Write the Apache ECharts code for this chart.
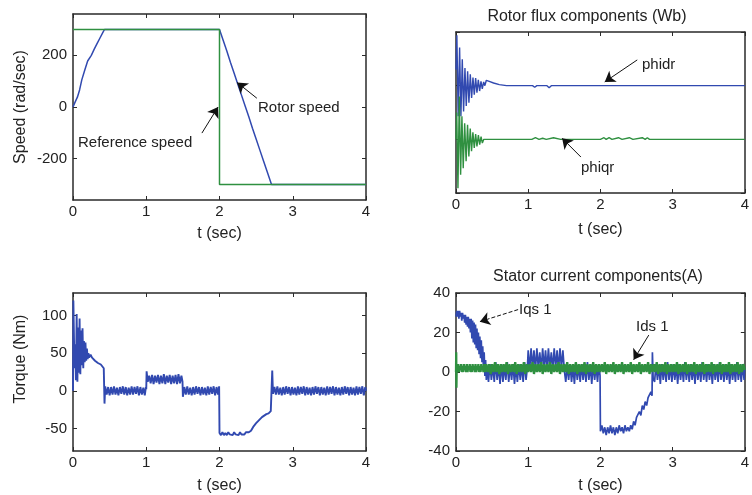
<!DOCTYPE html>
<html><head><meta charset="utf-8">
<script src="https://cdn.jsdelivr.net/npm/echarts@6/dist/echarts.min.js"></script>
<style>html,body{margin:0;padding:0;background:#fff}#c{width:752px;height:495px}</style>
</head><body><div id="c"></div>
<script>
// ---- tick labels ----
const timeTicks = [0, 1, 2, 3, 4];
const speedTicks = [-200, 0, 200];
const torqueTicks = [-50, 0, 50, 100];
const currentTicks = [-40, -20, 0, 20, 40];

// ---- speed (rad/sec) ----
const refSpeed = [[0,300],[2,300],[2,-300],[4,-300]];
const rotorSpeed = [[0,0],[0.03,20],[0.06,38],[0.09,66],[0.12,105],[0.16,142],[0.2,178],[0.25,200],[0.29,224],[0.33,246],[0.37,268],[0.41,290],[0.43,300],[2.0,300],[2.05,258],[2.1,217],[2.15,172],[2.2,131],[2.25,88],[2.3,46],[2.35,4],[2.4,-38],[2.45,-82],[2.5,-124],[2.55,-166],[2.6,-208],[2.65,-250],[2.71,-300],[4,-300]];

// ---- rotor flux (Wb) ----
const phidr = [[0,1.3],[0.012,1.94],[0.03,0.43],[0.05,1.71],[0.068,0.43],[0.087,1.49],[0.105,0.52],[0.124,1.33],[0.142,0.62],[0.161,1.27],[0.179,0.68],[0.198,1.21],[0.216,0.77],[0.235,1.15],[0.253,0.83],[0.272,1.14],[0.29,0.87],[0.309,1.11],[0.327,0.9],[0.346,1.08],[0.364,0.94],[0.383,1.07],[0.40,1.0],[0.42,1.1],[0.46,1.08],[0.52,1.05],[0.6,1.02],[0.7,1.0],[1.06,1.0],[1.09,0.97],[1.12,1.0],[1.26,1.0],[1.29,0.96],[1.32,1.0],[1.6,1.0],[1.61,0.98],[1.62,1.0],[1.8,1.0],[1.81,0.98],[1.82,1.0],[2.0,1.0],[2.01,0.98],[2.02,1.0],[2.2,1.0],[2.21,0.98],[2.22,1.0],[2.4,1.0],[2.41,0.98],[2.42,1.0],[2.6,1.0],[2.61,0.98],[2.62,1.0],[2.8,1.0],[2.81,0.98],[2.82,1.0],[3.02,1.0],[3.03,0.98],[3.04,1.0],[4,1.0]];
const phiqr = [[0,0],[0.01,0.5],[0.027,-0.91],[0.046,0.80],[0.064,-0.66],[0.082,0.43],[0.1,-0.54],[0.12,0.30],[0.14,-0.41],[0.16,0.27],[0.178,-0.32],[0.197,0.2],[0.215,-0.22],[0.234,0.13],[0.253,-0.16],[0.272,0.10],[0.29,-0.13],[0.31,0.08],[0.328,-0.1],[0.347,0.05],[0.365,-0.07],[0.385,0.0],[1.05,0.0],[1.1,0.03],[1.15,0.0],[1.2,0.02],[1.25,0.0],[1.35,0.03],[1.45,0.0],[2.0,0.0],[2.05,0.03],[2.08,0.0],[2.12,0.03],[2.16,0.0],[2.25,0.03],[2.3,0.0],[2.4,0.03],[2.45,0.0],[2.58,0.03],[2.62,0.0],[2.65,0.03],[2.68,0.0],[4,0.0]];

// ---- torque (Nm) ----
const torque = [[0,0],[0.005,120],[0.015,118],[0.02,30],[0.03,62],[0.04,14],[0.05,102],[0.06,12],[0.07,84],[0.08,24],[0.09,96],[0.1,22],[0.11,80],[0.12,34],[0.13,83],[0.14,30],[0.15,66],[0.16,38],[0.17,64],[0.18,40],[0.19,56],[0.2,42],[0.21,50],[0.22,44],[0.24,48],[0.26,44],[0.28,45],[0.3,40],[0.32,39],[0.34,37],[0.36,36],[0.38,35],[0.4,34],[0.42,30],[0.43,-17],[0.44,6],
[0.46,-5],[0.48,5],[0.5,-6],[0.52,5],[0.54,-5],[0.56,6],[0.58,-5],[0.6,4],[0.62,-6],[0.64,5],[0.66,-4],[0.68,6],[0.7,-5],[0.72,5],[0.74,-6],[0.76,4],[0.78,-5],[0.8,6],[0.82,-5],[0.84,5],[0.86,-4],[0.88,6],[0.9,-6],[0.92,5],[0.94,-5],[0.96,4],[0.98,-6],[0.995,5],
[1.0,2],[1.005,26],[1.02,12],[1.04,20],[1.06,10],[1.08,21],[1.1,9],[1.12,20],[1.14,11],[1.16,21],[1.18,9],[1.2,20],[1.22,10],[1.24,22],[1.26,9],[1.28,20],[1.3,11],[1.32,21],[1.34,9],[1.36,20],[1.38,10],[1.4,21],[1.42,9],[1.44,22],[1.46,10],[1.48,20],[1.495,12],
[1.5,-8],[1.52,5],[1.54,-5],[1.56,6],[1.58,-5],[1.6,4],[1.62,-6],[1.64,5],[1.66,-5],[1.68,6],[1.7,-4],[1.72,5],[1.74,-6],[1.76,5],[1.78,-5],[1.8,4],[1.82,-6],[1.84,6],[1.86,-5],[1.88,5],[1.9,-4],[1.92,6],[1.94,-6],[1.96,5],[1.98,-5],[1.995,6],
[2.0,-56],[2.02,-59],[2.04,-55],[2.06,-59],[2.08,-56],[2.1,-59],[2.12,-55],[2.14,-58],[2.16,-56],[2.18,-59],[2.2,-55],[2.22,-58],[2.24,-56],[2.26,-59],[2.28,-55],[2.3,-58],[2.32,-56],[2.34,-58],[2.36,-55],[2.38,-57],[2.4,-55],[2.43,-53],[2.46,-48],[2.48,-46],[2.5,-43],[2.52,-41],[2.54,-39],[2.56,-37],[2.58,-35],[2.61,-33],[2.64,-31],[2.67,-30],[2.7,-27],[2.715,-27],[2.72,27],[2.73,-4],
[2.75,5],[2.77,-5],[2.79,6],[2.81,-5],[2.83,4],[2.85,-6],[2.87,5],[2.89,-5],[2.91,6],[2.93,-4],[2.95,5],[2.97,-6],[2.99,5],[3.01,-5],[3.03,4],[3.05,-6],[3.07,6],[3.09,-5],[3.11,5],[3.13,-4],[3.15,6],[3.17,-6],[3.19,5],[3.21,-5],[3.23,4],[3.25,-6],[3.27,5],[3.29,-5],[3.31,6],[3.33,-4],[3.35,5],[3.37,-6],[3.39,5],[3.41,-5],[3.43,4],[3.45,-6],[3.47,6],[3.49,-5],[3.51,5],[3.53,-4],[3.55,6],[3.57,-6],[3.59,5],[3.61,-5],[3.63,4],[3.65,-6],[3.67,5],[3.69,-5],[3.71,6],[3.73,-4],[3.75,5],[3.77,-6],[3.79,5],[3.81,-5],[3.83,4],[3.85,-6],[3.87,6],[3.89,-5],[3.91,5],[3.93,-4],[3.95,6],[3.97,-6],[3.99,5],[4,0]];

// ---- stator currents (A) ----
const iqs1 = [[0,28],[0.01,31],[0.02,28],[0.03,31],[0.04,27],[0.05,31],[0.06,28],[0.07,30],[0.08,26],[0.09,30],[0.1,27],[0.11,29],[0.12,25],[0.13,29],[0.14,24],[0.15,28],[0.16,23],[0.17,28],[0.18,22],[0.19,27],[0.2,20],[0.21,27],[0.22,17],[0.23,26],[0.24,15],[0.25,25],[0.26,14],[0.27,24],[0.28,12],[0.29,22],[0.3,11],[0.31,20],[0.32,9],[0.33,18],[0.34,7],[0.35,16],[0.36,5],[0.37,13],[0.38,2],[0.39,10],[0.4,-2],[0.41,6],[0.42,-4],[0.43,3],
[0.45,-5],[0.47,4],[0.49,-4],[0.51,3],[0.53,-5],[0.55,5],[0.57,-4],[0.59,3],[0.61,-6],[0.63,4],[0.65,-5],[0.67,3],[0.69,-4],[0.71,5],[0.73,-5],[0.75,3],[0.77,-4],[0.79,4],[0.81,-6],[0.83,3],[0.85,-5],[0.87,4],[0.89,-4],[0.91,3],[0.93,-5],[0.95,5],[0.97,-4],[0.99,3],
[1.0,11],[1.02,1],[1.04,12],[1.06,2],[1.08,11],[1.1,1],[1.12,12],[1.14,2],[1.16,10],[1.18,1],[1.2,12],[1.22,2],[1.24,11],[1.26,1],[1.28,12],[1.3,2],[1.32,10],[1.34,1],[1.36,12],[1.38,2],[1.4,11],[1.42,1],[1.44,12],[1.46,2],[1.48,11],[1.5,1],
[1.52,-5],[1.54,3],[1.56,-4],[1.58,4],[1.6,-5],[1.62,3],[1.64,-6],[1.66,4],[1.68,-4],[1.7,3],[1.72,-5],[1.74,4],[1.76,-4],[1.78,3],[1.8,-5],[1.82,5],[1.84,-4],[1.86,3],[1.88,-6],[1.9,4],[1.92,-4],[1.94,3],[1.96,-5],[1.98,4],[1.995,-2],
[2.0,-30],[2.02,-27],[2.04,-31],[2.06,-28],[2.08,-32],[2.1,-28],[2.12,-31],[2.14,-27],[2.16,-31],[2.18,-28],[2.2,-32],[2.22,-28],[2.24,-31],[2.26,-27],[2.28,-30],[2.3,-28],[2.32,-31],[2.34,-27],[2.36,-30],[2.38,-28],[2.4,-30],[2.42,-27],[2.44,-29],[2.46,-25],[2.48,-27],[2.5,-23],[2.52,-24],[2.54,-20],[2.56,-22],[2.58,-17],[2.6,-19],[2.62,-15],[2.64,-17],[2.66,-13],[2.68,-14],[2.7,-10],[2.715,-12],[2.72,10],[2.73,-3],
[2.75,-5],[2.77,4],[2.79,-4],[2.81,3],[2.83,-6],[2.85,4],[2.87,-4],[2.89,3],[2.91,-5],[2.93,5],[2.95,-4],[2.97,3],[2.99,-5],[3.01,4],[3.03,-4],[3.05,3],[3.07,-6],[3.09,4],[3.11,-4],[3.13,3],[3.15,-5],[3.17,5],[3.19,-4],[3.21,3],[3.23,-5],[3.25,4],[3.27,-4],[3.29,3],[3.31,-6],[3.33,4],[3.35,-4],[3.37,3],[3.39,-5],[3.41,5],[3.43,-4],[3.45,3],[3.47,-5],[3.49,4],[3.51,-4],[3.53,3],[3.55,-6],[3.57,4],[3.59,-4],[3.61,3],[3.63,-5],[3.65,5],[3.67,-4],[3.69,3],[3.71,-5],[3.73,4],[3.75,-4],[3.77,3],[3.79,-6],[3.81,4],[3.83,-4],[3.85,3],[3.87,-5],[3.89,5],[3.91,-4],[3.93,3],[3.95,-5],[3.97,4],[3.99,-4],[4,2]];
const ids1 = [[0,0],[0.003,10],[0.006,-8],[0.01,3],[0.02,0],[0.03,4],[0.04,0],[0.05,3],[0.06,1],[0.07,4],[0.08,0],[0.09,3],[0.1,0],[0.11,4],[0.12,1],[0.13,3],[0.14,0],[0.15,4],[0.16,0],[0.17,3],[0.18,1],[0.19,4],[0.2,0],[0.21,3],[0.22,0],[0.23,4],[0.24,1],[0.25,3],[0.26,0],[0.27,4],[0.28,0],[0.29,3],[0.3,1],[0.31,4],[0.32,0],[0.33,3],[0.34,0],[0.35,4],[0.36,1],[0.37,3],[0.38,0],[0.39,4],[0.4,0],
[0.42,4],[0.44,0],[0.46,4],[0.48,-1],[0.5,4],[0.52,0],[0.54,5],[0.56,0],[0.58,4],[0.6,-1],[0.62,4],[0.64,0],[0.66,4],[0.68,0],[0.7,5],[0.72,-1],[0.74,4],[0.76,0],[0.78,4],[0.8,0],[0.82,5],[0.84,-1],[0.86,4],[0.88,0],[0.9,4],[0.92,0],[0.94,5],[0.96,-1],[0.98,4],[1.0,0],
[1.02,4],[1.04,0],[1.06,5],[1.08,-1],[1.1,4],[1.12,0],[1.14,4],[1.16,0],[1.18,5],[1.2,-1],[1.22,4],[1.24,0],[1.26,4],[1.28,0],[1.3,5],[1.32,-1],[1.34,4],[1.36,0],[1.38,4],[1.4,0],[1.42,5],[1.44,-1],[1.46,4],[1.48,0],[1.5,4],[1.52,0],[1.54,5],[1.56,-1],[1.58,4],[1.6,0],[1.62,4],[1.64,0],[1.66,5],[1.68,-1],[1.7,4],[1.72,0],[1.74,4],[1.76,0],[1.78,5],[1.8,-1],[1.82,4],[1.84,0],[1.86,4],[1.88,0],[1.9,5],[1.92,-1],[1.94,4],[1.96,0],[1.98,4],[2.0,0],
[2.02,4],[2.04,0],[2.06,5],[2.08,-1],[2.1,4],[2.12,0],[2.14,4],[2.16,0],[2.18,5],[2.2,-1],[2.22,4],[2.24,0],[2.26,4],[2.28,0],[2.3,5],[2.32,-1],[2.34,4],[2.36,0],[2.38,4],[2.4,0],[2.42,5],[2.44,-1],[2.46,4],[2.48,0],[2.5,4],[2.52,0],[2.54,5],[2.56,-1],[2.58,4],[2.6,0],[2.62,4],[2.64,0],[2.66,5],[2.68,-1],[2.7,4],[2.72,0],[2.74,4],[2.76,0],[2.78,5],[2.8,-1],[2.82,4],[2.84,0],[2.86,4],[2.88,0],[2.9,5],[2.92,-1],[2.94,4],[2.96,0],[2.98,4],[3.0,0],
[3.02,4],[3.04,0],[3.06,5],[3.08,-1],[3.1,4],[3.12,0],[3.14,4],[3.16,0],[3.18,5],[3.2,-1],[3.22,4],[3.24,0],[3.26,4],[3.28,0],[3.3,5],[3.32,-1],[3.34,4],[3.36,0],[3.38,4],[3.4,0],[3.42,5],[3.44,-1],[3.46,4],[3.48,0],[3.5,4],[3.52,0],[3.54,5],[3.56,-1],[3.58,4],[3.6,0],[3.62,4],[3.64,0],[3.66,5],[3.68,-1],[3.7,4],[3.72,0],[3.74,4],[3.76,0],[3.78,5],[3.8,-1],[3.82,4],[3.84,0],[3.86,4],[3.88,0],[3.9,5],[3.92,-1],[3.94,4],[3.96,0],[3.98,4],[4,1]];

// ---- annotation arrows (data coords: [from],[to]) ----
const arrowRotor = [[2.51,34],[2.24,95]];
const arrowRef = [[1.76,-101],[1.98,0]];
const arrowPhidr = [[2.51,1.48],[2.06,1.07]];
const arrowPhiqr = [[1.73,-0.33],[1.47,0.02]];
const arrowIqs = [[0.86,31.6],[0.33,25.5]];
const arrowIds = [[2.67,18.7],[2.46,6.2]];

const FONT = '"Liberation Sans", Arial, sans-serif';
const TXT = '#222';
const BLUE = '#3149b0';
const GREEN = '#2f9040';
const AXC = '#2a2a2a';

const grids = [
  {left:73, top:14, width:293, height:186},
  {left:456, top:32, width:292, height:161},
  {left:73, top:293, width:293, height:159},
  {left:456, top:293, width:292, height:159}
];

function xAxes(g, gap) {
  const base = {type:'value', gridIndex:g, min:0, max:4, interval:1,
    splitLine:{show:false},
    axisLine:{show:true, onZero:false, lineStyle:{color:AXC, width:1.5}},
    axisTick:{show:true, inside:true, length:4, lineStyle:{color:AXC}}};
  return [
    Object.assign({}, base, {position:'bottom', name:'t (sec)', nameLocation:'middle', nameGap:gap,
      nameTextStyle:{fontFamily:FONT, fontSize:16, color:TXT},
      axisLabel:{show:true, margin:4, fontFamily:FONT, fontSize:15, color:TXT,
        customValues: timeTicks}}),
    Object.assign({}, base, {position:'top', axisLabel:{show:false}})
  ];
}
function yAxes(g, min, max, ticks, showLabels, name, namePad) {
  const base = {type:'value', gridIndex:g, min:min, max:max,
    splitLine:{show:false},
    axisLine:{show:true, onZero:false, lineStyle:{color:AXC, width:1.5}},
    axisTick:{show:true, inside:true, length:4, customValues:ticks, lineStyle:{color:AXC}}};
  const left = Object.assign({}, base, {position:'left',
    axisLabel:{show:showLabels, margin:6, fontFamily:FONT, fontSize:15, color:TXT, customValues:ticks}});
  if (name) {
    left.name = name; left.nameLocation = 'middle'; left.nameGap = 44;
    left.nameTextStyle = {fontFamily:FONT, fontSize:16, color:TXT, padding:namePad || 0};
  }
  const right = Object.assign({}, base, {position:'right', axisLabel:{show:false}});
  return [left, right];
}

function arrow(a, dashed) {
  return {silent:true, symbol:['none','arrow'], symbolSize:10, animation:false,
    label:{show:false}, emphasis:{disabled:true},
    itemStyle:{color:'#111'},
    lineStyle:{color:'#111', width:1, type: dashed ? [4,2] : 'solid'},
    data:[[{coord:a[0]},{coord:a[1]}]]};
}

const xAxis = [].concat(xAxes(0,26), xAxes(1,29), xAxes(2,27), xAxes(3,27));
const yAxis = [].concat(
  yAxes(0, -360, 360, speedTicks, true, 'Speed (rad/sec)'),
  yAxes(1, -1, 2, [-1,0,1,2], false, null),
  yAxes(2, -80, 130, torqueTicks, true, 'Torque (Nm)', [0,0,0,26]),
  yAxes(3, -40, 40, currentTicks, true, null)
);

function line(name, data, xi, yi, color, w, ma) {
  const s = {name:name, type:'line', data:data, xAxisIndex:xi, yAxisIndex:yi,
    showSymbol:false, symbol:'none', animation:false, clip:true,
    lineStyle:{color:color, width:w}, itemStyle:{color:color}};
  if (ma) s.markLine = ma;
  return s;
}

const series = [
  line('Rotor speed', rotorSpeed, 0, 0, BLUE, 1.5, arrow(arrowRotor)),
  line('Reference speed', refSpeed, 0, 0, GREEN, 1.5, arrow(arrowRef)),
  line('phidr', phidr, 2, 2, BLUE, 1.4, arrow(arrowPhidr)),
  line('phiqr', phiqr, 2, 2, GREEN, 1.4, arrow(arrowPhiqr)),
  line('Torque', torque, 4, 4, BLUE, 1.9),
  line('Iqs1', iqs1, 6, 6, BLUE, 1.7, arrow(arrowIqs, true)),
  line('Ids1', ids1, 6, 6, GREEN, 2.3, arrow(arrowIds))
];

function txt(text, x, y, size, align) {
  return {type:'text', silent:true, style:{text:text, x:x, y:y, font: size + 'px ' + FONT,
    fill:TXT, align: align || 'left', verticalAlign:'middle', textVerticalAlign:'middle'}};
}

const chart = echarts.init(document.getElementById('c'), null, {renderer:'canvas'});
chart.setOption({
  backgroundColor:'#fff',
  animation:false,
  grid: grids,
  xAxis: xAxis,
  yAxis: yAxis,
  series: series,
  graphic: [
    txt('Rotor speed', 258, 108, 15),
    txt('Reference speed', 78, 143, 15),
    txt('Rotor flux components (Wb)', 587, 17, 16, 'center'),
    txt('phidr', 642, 65, 15),
    txt('phiqr', 581, 168, 15),
    txt('Stator current components(A)', 598, 277, 16, 'center'),
    txt('Iqs 1', 519, 310, 15),
    txt('Ids 1', 636, 327, 15)
  ]
});
</script></body></html>
